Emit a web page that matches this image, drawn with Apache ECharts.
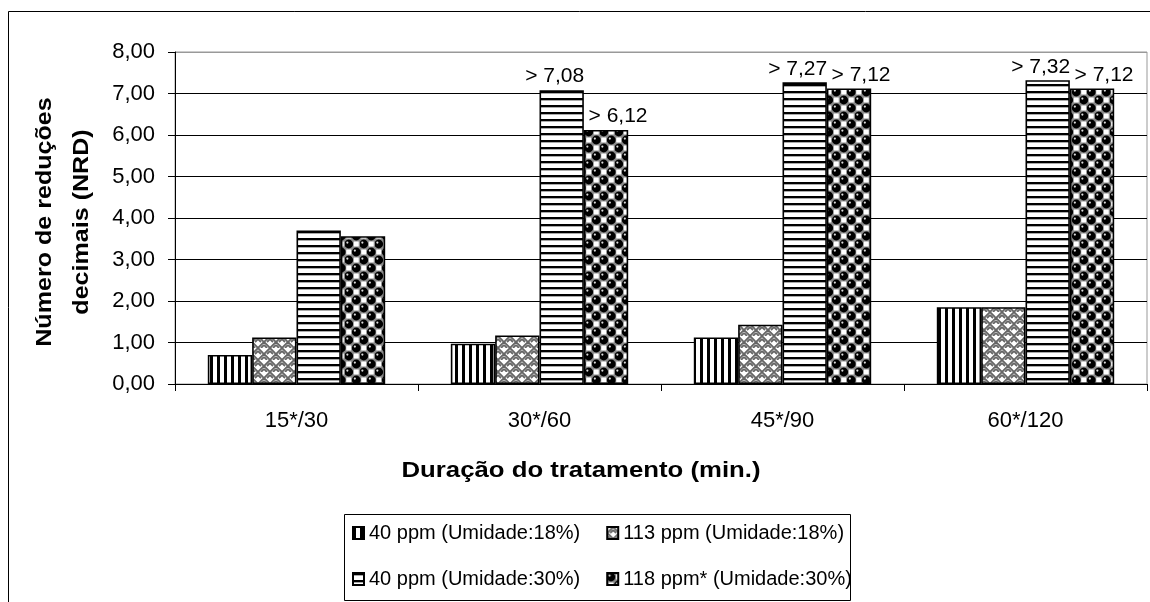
<!DOCTYPE html>
<html>
<head>
<meta charset="utf-8">
<script src="https://cdn.jsdelivr.net/npm/echarts@6/dist/echarts.min.js"></script>
<style>
  html, body { margin: 0; padding: 0; background: #fff; }
  #chart { width: 1150px; height: 602px; }
</style>
</head>
<body>
<div id="chart"></div>
<script>
// Treatment durations (min.) and the four ozone / moisture conditions
const categories = ['15*/30', '30*/60', '45*/90', '60*/120'];
const seriesNames = [
  '40 ppm (Umidade:18%)',
  '113 ppm (Umidade:18%)',
  '40 ppm (Umidade:30%)',
  '118 ppm* (Umidade:30%)'
];
// Número de reduções decimais (NRD)
const ppm40u18 = [0.70, 0.97, 1.12, 1.85];
const ppm113u18 = [1.12, 1.17, 1.43, 1.85];
const ppm40u30 = [3.70, 7.08, 7.27, 7.32];
const ppm118u30 = [3.56, 6.12, 7.12, 7.12];
// Which points of the 30% moisture series carry a "> value" label
const labelledPoints = [false, true, true, true];

const FONT = '"Liberation Sans", Arial, sans-serif';
const fmt = v => v.toFixed(2).replace('.', ',');

// Small repeating canvas tiles used as monochrome hatch fills
function tile(w, h, draw) {
  const c = document.createElement('canvas');
  c.width = w; c.height = h;
  const g = c.getContext('2d');
  g.fillStyle = '#fff';
  g.fillRect(0, 0, w, h);
  draw(g);
  return { image: c, repeat: 'repeat' };
}

const verticalStripes = tile(7, 1, g => {
  g.fillStyle = '#000';
  g.fillRect(0, 0, 3, 1);
});

const horizontalStripes = tile(1, 7, g => {
  g.fillStyle = '#000';
  g.fillRect(0, 0, 1, 2);
  g.fillStyle = '#aaa';
  g.fillRect(0, 2, 1, 1);
});

const weave = tile(12, 12, g => {
  g.strokeStyle = '#666';
  g.lineWidth = 1.8;
  const seg = (x1, y1, x2, y2) => { g.beginPath(); g.moveTo(x1, y1); g.lineTo(x2, y2); g.stroke(); };
  // "/" cells
  [[0, 0], [6, 6]].forEach(([x, y]) => {
    seg(x, y + 6, x + 6, y);
    seg(x + 3, y + 6, x + 6, y + 3);
  });
  // "\" cells
  [[6, 0], [0, 6]].forEach(([x, y]) => {
    seg(x, y, x + 6, y + 6);
    seg(x, y + 3, x + 3, y + 6);
  });
});

const dots = tile(15, 16, g => {
  g.fillStyle = '#8a8a8a';
  g.fillRect(0, 0, 15, 16);
  g.fillStyle = '#fff';
  g.fillRect(11.25 - 2.5, 4 - 2.5, 5, 5);
  g.fillRect(3.75 - 2.5, 12 - 2.5, 5, 5);
  const ball = (x, y) => {
    g.fillStyle = '#000';
    g.beginPath(); g.arc(x, y, 4.4, 0, Math.PI * 2); g.fill();
    g.fillStyle = '#ddd';
    g.beginPath(); g.arc(x - 1.4, y - 1.4, 1.1, 0, Math.PI * 2); g.fill();
  };
  [[3.75, 4], [11.25, 12], [18.75, 12], [-3.75, 12], [11.25, -4], [3.75, 20],
   [18.75, -4], [-3.75, -4], [18.75, 20], [-3.75, 20]].forEach(([x, y]) => ball(x, y));
});

function barSeries(name, values, fill, labelOffset) {
  return {
    name: name,
    type: 'bar',
    barGap: '0%',
    barCategoryGap: '27%',
    itemStyle: { color: fill, borderColor: '#000', borderWidth: 1.6 },
    data: values.map((v, i) => labelOffset === null ? v : {
      value: v,
      label: { show: labelledPoints[i] }
    }),
    label: {
      show: false,
      position: 'top',
      distance: 3,
      offset: [labelOffset || 0, 0],
      formatter: p => '> ' + fmt(p.value),
      fontFamily: FONT,
      fontSize: 21,
      color: '#000'
    }
  };
}

const chart = echarts.init(document.getElementById('chart'), null, { renderer: 'canvas' });

chart.setOption({
  animation: false,
  backgroundColor: '#fff',
  grid: {
    left: 175, right: 3, top: 52, bottom: 218,
    show: true, borderColor: '#999', borderWidth: 1, backgroundColor: 'transparent'
  },
  xAxis: {
    type: 'category',
    data: categories,
    boundaryGap: true,
    axisLine: { show: true, lineStyle: { color: '#000', width: 1 } },
    axisTick: { show: true, alignWithLabel: false, length: 7, lineStyle: { color: '#000' } },
    axisLabel: { fontFamily: FONT, fontSize: 22, color: '#000', margin: 26 },
    splitLine: { show: false }
  },
  yAxis: {
    type: 'value',
    min: 0, max: 8, interval: 1,
    axisLine: { show: true, lineStyle: { color: '#000', width: 1 } },
    axisTick: { show: true, length: 7, lineStyle: { color: '#000' } },
    axisLabel: { fontFamily: FONT, fontSize: 22, color: '#000', margin: 20, formatter: v => fmt(v) },
    splitLine: {
      show: true,
      lineStyle: { color: ['#000', '#000', '#000', '#000', '#000', '#000', '#000', '#000', '#999'], width: 1 }
    }
  },
  legend: {
    data: seriesNames,
    left: 352, top: 523,
    width: 505,
    padding: 0,
    itemWidth: 11, itemHeight: 12, itemGap: 26,
    icon: 'rect',
    selectedMode: false,
    textStyle: { fontFamily: FONT, fontSize: 20, color: '#000' }
  },
  graphic: [
    {
      type: 'rect', silent: true, z: -10,
      shape: { x: 8.5, y: 11.5, width: 1300, height: 700 },
      style: { fill: 'none', stroke: '#000', lineWidth: 1 }
    },
    {
      type: 'rect', silent: true,
      shape: { x: 344.5, y: 514.5, width: 506, height: 86 },
      style: { fill: 'none', stroke: '#000', lineWidth: 1 }
    },
    {
      type: 'text', silent: true,
      x: 581, y: 471, scaleX: 1.17,
      style: {
        text: 'Duração do tratamento (min.)',
        font: 'bold 22px ' + FONT,
        fill: '#000', align: 'center', verticalAlign: 'middle'
      }
    },
    {
      type: 'text', silent: true,
      x: 63, y: 222, rotation: Math.PI / 2, scaleX: 1.14,
      style: {
        text: 'Número de reduções\ndecimais (NRD)',
        font: 'bold 22px ' + FONT,
        lineHeight: 37,
        fill: '#000', align: 'center', verticalAlign: 'middle'
      }
    }
  ],
  series: [
    barSeries(seriesNames[0], ppm40u18, verticalStripes, null),
    barSeries(seriesNames[1], ppm113u18, weave, null),
    barSeries(seriesNames[2], ppm40u30, horizontalStripes, -7),
    barSeries(seriesNames[3], ppm118u30, dots, 12)
  ]
});
</script>
</body>
</html>
